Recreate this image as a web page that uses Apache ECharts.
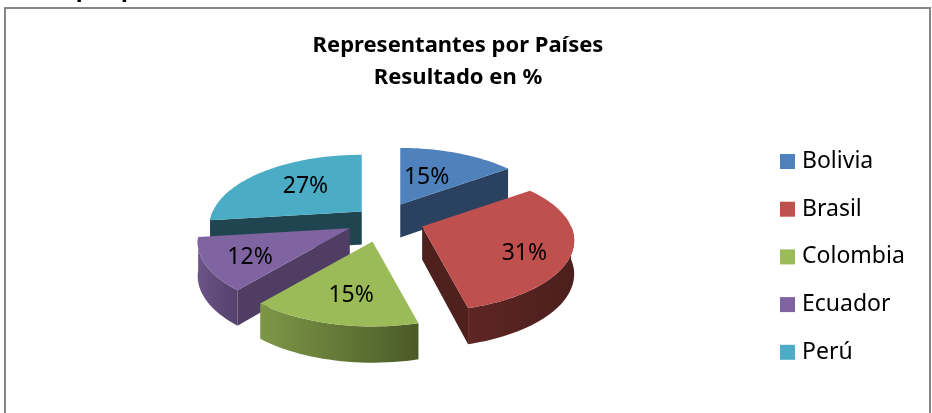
<!DOCTYPE html>
<html>
<head>
<meta charset="utf-8">
<style>html,body{margin:0;padding:0;background:#fff}#c{width:932px;height:413px}</style>
<script src="https://cdn.jsdelivr.net/npm/echarts@6/dist/echarts.min.js"></script>
</head>
<body>
<div id="c"></div>
<script>
const categories = ['Bolivia', 'Brasil', 'Colombia', 'Ecuador', 'Perú'];
const values = [15, 31, 15, 12, 27];
const titleText = 'Representantes por Países\nResultado en %';
const clippedHeading = 'tación por países';

const topColors = ['#4f81bd', '#c0504d', '#9bbb59', '#8064a2', '#4bacc6'];
const sideColors = ['#2a4260', '#4e201e', '#4d5e2c', '#4f3d63', '#1e4550'];
const wallLight = ['#2a4260', '#5e2624', '#7d9747', '#6b5487', '#1e4550'];
const wallDark = ['#2a4260', '#4b1f1d', '#4a5a28', '#54416b', '#1e4550'];
const explode = [0.3, 0.26, 0.26, 0.23, 0.215];
const labelFx = [0.46, 0.68, 0.53, 0.69, 0.57];
const labelFy = [0.53, 1.1, 0.66, 0.8, 0.63];

const CX = 383, CY = 220, RX = 149, RY = 68, K = 0.2;
const rad = d => d * Math.PI / 180;
function rim(deg) {
  const u = Math.sin(rad(deg)), v = Math.cos(rad(deg));
  const s = 1 / (1 + K * v);
  return { x: RX * u * s, y: -RY * v * s, s };
}
const depth = s => 20 + 13 * s;
const total = values.reduce((a, b) => a + b, 0);
let acc = 0;
const spans = values.map(v => {
  const a0 = acc / total * 360;
  acc += v;
  return [a0, acc / total * 360];
});

function renderSlice(i, api) {
  const [a0, a1] = [spans[i][0], spans[i][1]];
  const mid = (a0 + a1) / 2;
  const m = rim(mid);
  const ax = CX + explode[i] * m.x, ay = CY + explode[i] * m.y;
  const apexD = depth(1);
  const pt = d => { const r = rim(d); return [ax + r.x, ay + r.y]; };
  const ptLow = d => { const r = rim(d); return [ax + r.x, ay + r.y + depth(r.s)]; };
  const arc = (from, to) => {
    const pts = [];
    const n = Math.max(2, Math.ceil(Math.abs(to - from) / 2));
    for (let j = 0; j <= n; j++) pts.push(from + (to - from) * j / n);
    return pts;
  };
  const children = [];
  const quad = (points, fill) => children.push({ type: 'polygon', shape: { points }, style: { fill, stroke: null } });
  if (Math.sin(rad(a1)) > 0.01) quad([[ax, ay], pt(a1), ptLow(a1), [ax, ay + apexD]], sideColors[i]);
  if (Math.sin(rad(a0)) < -0.01) quad([[ax, ay], pt(a0), ptLow(a0), [ax, ay + apexD]], sideColors[i]);
  const w0 = Math.max(a0, 90), w1 = Math.min(a1, 270);
  if (w1 > w0) {
    const degs = arc(w0, w1);
    const points = degs.map(pt).concat(degs.slice().reverse().map(ptLow));
    const xs = points.map(p => p[0]);
    const grad = new echarts.graphic.LinearGradient(Math.min(...xs), 0, Math.max(...xs), 0,
      [{ offset: 0, color: wallLight[i] }, { offset: 1, color: wallDark[i] }], true);
    quad(points, grad);
  }
  quad([[ax, ay]].concat(arc(a0, a1).map(pt)), topColors[i]);
  children.push({
    type: 'text',
    style: {
      text: Math.round(api.value(0) / total * 100) + '%',
      x: ax + labelFx[i] * m.x, y: ay + labelFy[i] * m.y,
      align: 'center', verticalAlign: 'middle',
      fill: '#000', fontFamily: 'Noto Sans', fontSize: 23
    }
  });
  return { type: 'group', children };
}

const series = categories.map((name, i) => {
  const mid = (spans[i][0] + spans[i][1]) / 2;
  return {
    type: 'custom', name, coordinateSystem: 'none', silent: true,
    z: 10 - Math.cos(rad(mid)),
    itemStyle: { color: topColors[i] },
    data: [[values[i]]],
    renderItem: (p, api) => renderSlice(i, api)
  };
});

const chart = echarts.init(document.getElementById('c'), null, { renderer: 'canvas' });
chart.setOption({
  animation: false,
  backgroundColor: '#fff',
  title: {
    text: titleText, left: 453, top: 25, textAlign: 'center',
    textStyle: { fontFamily: 'Noto Sans', fontWeight: 'bold', fontSize: 22, lineHeight: 32, color: '#000' }
  },
  legend: {
    orient: 'vertical', left: 775, top: 145, itemWidth: 15, itemHeight: 15, itemGap: 24.7,
    icon: 'rect', selectedMode: false, data: categories, itemStyle: { borderWidth: 0 },
    textStyle: { fontFamily: 'Noto Sans', fontSize: 23, color: '#000', lineHeight: 20, padding: [0, 0, 0, 2] }
  },
  graphic: [
    { type: 'rect', z: -1, silent: true, shape: { x: 5, y: 8, width: 925, height: 420 }, style: { fill: '#fff', stroke: '#868686', lineWidth: 2 } },
    { type: 'text', silent: true, style: { text: clippedHeading, x: -2, y: -22, fontFamily: 'Noto Sans', fontWeight: 'bold', fontSize: 23, fill: '#000' } }
  ],
  series
});
</script>
</body>
</html>
